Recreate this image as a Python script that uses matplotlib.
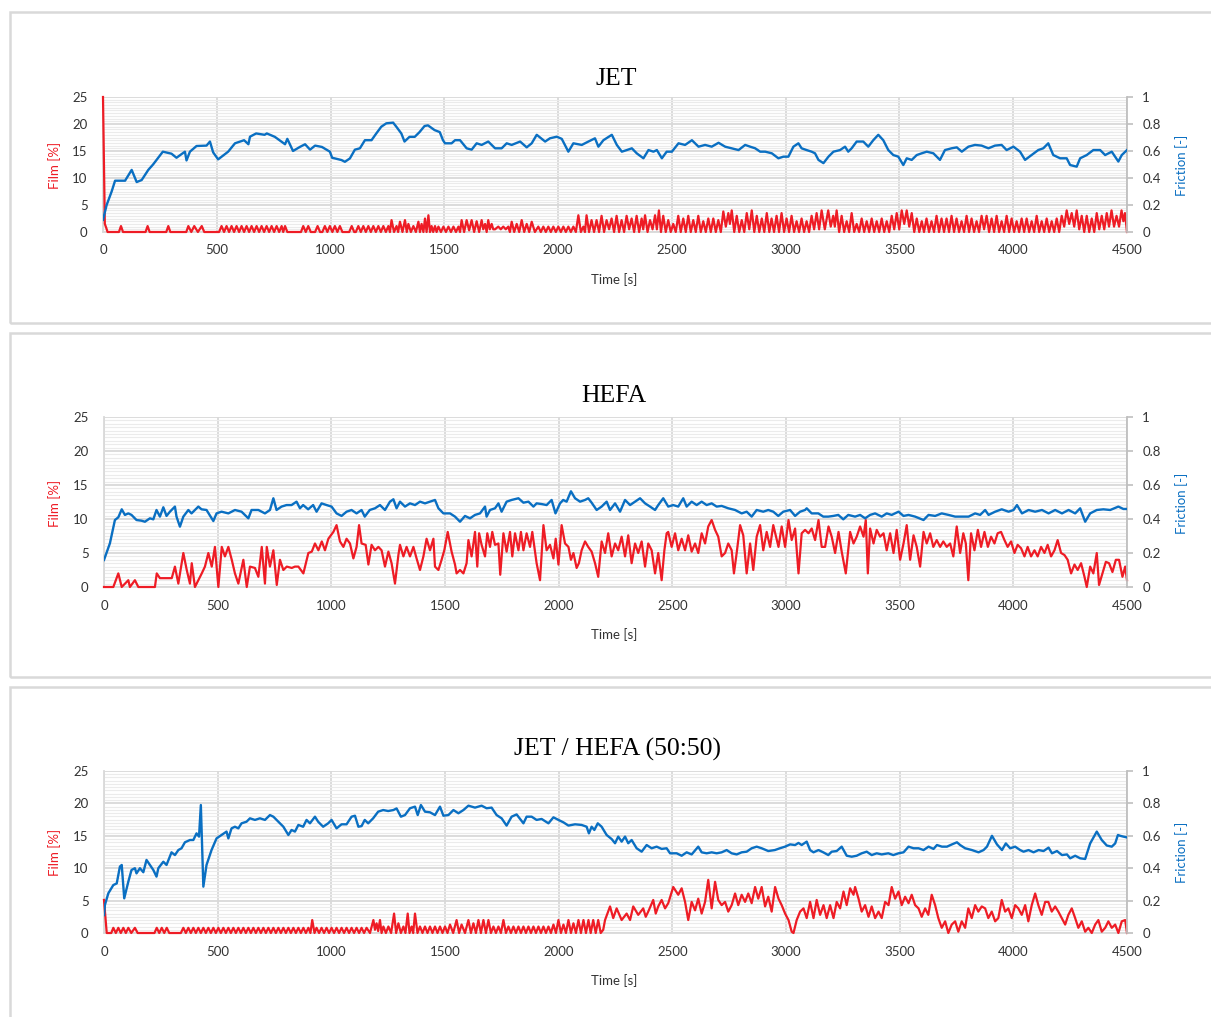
import matplotlib
matplotlib.use('Agg')
import matplotlib.pyplot as plt
from matplotlib.ticker import MultipleLocator
from matplotlib.patches import Rectangle

plt.rcParams['font.family'] = ['Lato', 'DejaVu Sans']

TITLES = ['JET', 'HEFA', 'JET / HEFA (50:50)']
X_TICKS = [0, 500, 1000, 1500, 2000, 2500, 3000, 3500, 4000, 4500]
FILM_TICKS = [0, 5, 10, 15, 20, 25]
FRIC_TICKS = [0, 0.2, 0.4, 0.6, 0.8, 1.0]
FRIC_LABELS = ['0', '0.2', '0.4', '0.6', '0.8', '1']

# ---------------- JET ----------------
JET_FRICTION = [(0,0.09),(16,0.20),(38,0.30),(53,0.38),(97,0.38),(126,0.46),(148,0.37),(170,0.385),(199,0.46),(220,0.50),(263,0.595),(301,0.58),(323,0.55),(360,0.595),(367,0.53),(382,0.595),(411,0.637),(455,0.64),(470,0.67),(484,0.59),(506,0.538),(550,0.595),(580,0.657),(620,0.68),(639,0.65),(646,0.706),(673,0.73),(710,0.72),(720,0.73),(755,0.705),(800,0.65),(810,0.69),(835,0.60),(865,0.63),(888,0.65),(910,0.61),(932,0.64),(962,0.63),(997,0.595),(1007,0.55),(1048,0.533),(1063,0.52),(1085,0.545),(1107,0.61),(1129,0.62),(1151,0.68),(1180,0.68),(1201,0.73),(1223,0.78),(1245,0.805),(1275,0.81),(1289,0.78),(1311,0.73),(1325,0.67),(1347,0.705),(1370,0.705),(1391,0.74),(1413,0.785),(1428,0.79),(1457,0.755),(1480,0.74),(1494,0.68),
(1503,0.657),(1532,0.657),(1547,0.68),(1569,0.68),(1598,0.62),(1620,0.61),(1642,0.657),(1664,0.645),(1693,0.67),(1723,0.62),(1752,0.62),(1774,0.657),(1796,0.645),(1833,0.67),(1862,0.627),(1884,0.657),(1906,0.72),(1943,0.67),(1964,0.694),(1994,0.706),(2016,0.69),(2045,0.595),(2067,0.657),(2104,0.645),(2133,0.67),(2162,0.694),(2177,0.632),(2199,0.68),(2236,0.72),(2258,0.645),(2280,0.595),(2302,0.607),(2324,0.62),(2346,0.582),(2375,0.546),(2397,0.607),(2419,0.595),(2434,0.607),(2456,0.546),(2477,0.595),(2500,0.595),(2529,0.657),(2558,0.645),(2588,0.68),(2617,0.632),(2646,0.645),(2675,0.632),(2705,0.661),(2734,0.632),(2763,0.62),(2793,0.607),(2822,0.645),(2844,0.632),(2866,0.62),(2888,0.595),(2910,0.595),(2939,0.583),(2968,0.546),(2990,0.558),
(3012,0.558),(3034,0.632),(3056,0.657),(3070,0.62),(3092,0.607),(3114,0.595),(3129,0.583),(3144,0.534),(3166,0.51),(3188,0.558),(3210,0.595),(3239,0.607),(3261,0.632),(3275,0.595),(3290,0.62),(3312,0.67),(3341,0.67),(3363,0.632),(3385,0.68),(3407,0.72),(3429,0.68),(3451,0.607),(3473,0.57),(3495,0.558),(3517,0.496),(3532,0.546),(3554,0.534),(3576,0.57),(3598,0.583),(3620,0.595),(3649,0.583),(3678,0.534),(3700,0.607),(3729,0.62),(3752,0.627),(3774,0.595),(3803,0.632),(3832,0.645),(3861,0.64),(3891,0.62),(3920,0.64),(3949,0.645),(3971,0.607),(4001,0.632),(4030,0.595),(4052,0.534),(4081,0.57),(4110,0.607),(4132,0.62),(4154,0.657),(4176,0.57),(4206,0.546),(4235,0.546),(4250,0.496),(4279,0.484),(4294,0.546),(4323,0.57),(4352,0.607),(4382,0.607),(4404,0.57),(4433,0.595),(4462,0.522),(4477,0.57),(4500,0.607)]

JET_FILM = [(0,25),(8,1.5),(14,0.8),(20,0),(70,0),(79,1.1),(88,0),(187,0),(196,1.1),(205,0),(278,0),(287,1.1),(296,0),
(366,0),(375,1.1),(388,0),(401,1.1),(417,0),(434,1.1),(445,0),
(510,0),(521,1.1),(532,0),(543,1.1),(554,0),(565,1.1),(576,0),(587,1.1),(598,0),(609,1.1),(620,0),(631,1.1),(642,0),(653,1.1),(664,0),(675,1.1),(686,0),(697,1.1),(708,0),(719,1.1),(730,0),(741,1.1),(752,0),(763,1.1),(774,0),(785,1.1),(792,0),(800,1.1),(810,0),
(870,0),(880,1.1),(891,0),(902,1.1),(913,0),(932,0),(943,1.1),(954,0),
(964,0),(975,1.1),(986,0),(997,1.1),(1008,0),(1019,1.1),(1030,0),(1041,1.1),(1052,0),(1082,0),(1093,1.1),(1104,0),
(1111,0),(1122,1.1),(1133,0),(1144,1.1),(1155,0),(1166,1.1),(1177,0),(1188,1.1),(1199,0),(1210,1.1),(1221,0),(1232,1.1),(1243,0),(1254,1.1),(1261,0),(1268,2.2),(1279,0),(1290,1.1),(1297,0),(1305,1.9),(1316,0),(1327,2.2),(1335,0),(1342,1.5),(1353,0),(1364,1.1),(1375,0),(1386,1.9),(1393,0),(1400,1.5),(1408,0),(1415,2.5),(1422,0),(1430,3.1),(1437,0),(1444,1.1),(1451,0),(1459,1.1),(1466,0),(1474,1.0),(1485,0),(1496,1.0),(1507,0),(1518,1.0),(1529,0),(1540,1.0),(1551,0),(1562,1.0),(1569,0),
(1576,2.2),(1587,0),(1598,2.2),(1609,0.3),(1620,2.2),(1631,0),(1642,2.0),(1653,0),(1664,2.2),(1671,0.5),(1679,1.5),(1686,0),(1693,2.2),(1700,0.5),(1708,1.5),(1715,0.5),(1723,0.5),(1737,1.0),(1748,0.5),(1759,1.0),(1770,0.5),(1781,1.0),(1788,0),
(1796,1.9),(1807,0),(1818,1.5),(1829,0),(1840,2.2),(1851,0),(1862,1.5),(1873,0),(1884,1.9),(1898,0),
(1913,1.0),(1924,0),(1935,1.0),(1946,0),(1957,1.0),(1968,0),(1979,1.0),(1990,0),(2001,1.0),(2012,0),(2023,1.0),(2034,0),(2045,1.0),(2056,0),(2067,1.0),(2078,0),
(2089,3.1),(2100,0),(2111,1.0),(2118,0),(2125,3.1),(2136,0),
(2147,2.2),(2158,0),(2169,2.2),(2180,0),(2191,3.0),(2202,0),(2213,2.2),(2224,0.5),(2235,2.5),(2246,0),(2257,3.0),(2268,0),(2279,2.2),(2290,0),(2301,3.0),(2312,0.5),(2323,2.5),(2334,0),(2345,3.0),(2356,0),(2367,2.5),(2374,0.5),(2382,3.1),(2393,0),(2404,2.2),(2415,0.5),(2426,3.1),(2434,0.5),(2443,4.0),(2452,0),(2462,3.0),(2473,0),(2484,2.2),(2495,0),(2506,1.5),(2517,0),(2528,3.0),(2539,0),(2550,2.5),(2561,0),(2572,3.0),(2583,0),(2594,2.2),(2605,0),(2616,3.0),(2627,0),(2638,2.0),(2649,0),(2660,2.5),(2671,0),(2682,2.5),(2693,0),(2704,2.2),(2715,0),(2726,3.8),(2737,1.0),(2748,3.5),(2755,1.5),(2763,4.0),(2774,0),(2785,3.0),(2796,0),(2807,2.2),(2818,0),(2829,3.5),(2840,0.5),(2851,4.0),(2862,0),(2873,3.0),(2884,0),(2895,2.5),(2906,0),(2917,3.5),(2928,0),(2938,2.5),(2949,0),(2960,3.0),(2971,0),(2982,3.5),(2993,0),
(3004,2.5),(3015,0),(3026,3.0),(3037,0),(3048,2.0),(3059,0),(3070,2.5),(3081,0),(3092,2.0),(3103,0),(3114,3.0),(3125,0.5),(3136,3.5),(3147,0.5),(3158,4.0),(3172,0.5),(3187,4.0),(3198,1.0),(3209,3.0),(3216,1.0),(3224,4.0),(3235,0),(3246,3.0),(3257,0),(3268,2.0),(3279,0),(3290,3.5),(3301,0),(3312,1.5),(3323,0),(3334,2.5),(3345,0),(3356,2.0),(3367,0),(3378,2.5),(3389,0),(3400,2.0),(3411,0),(3422,2.5),(3433,0),(3444,2.0),(3455,0),(3466,3.0),(3477,0.5),(3488,3.5),(3499,0.5),(3510,4.0),(3521,1.5),(3532,4.0),(3543,1.0),(3554,3.5),(3565,0),(3576,2.5),(3587,0),(3598,2.0),(3608,0),(3619,2.5),(3630,0),(3641,2.0),(3652,0),(3663,3.0),(3674,0),(3685,2.5),(3696,0),(3707,2.5),(3718,0),(3729,3.0),(3740,0),(3751,2.5),(3762,0),(3773,2.0),(3784,0),(3795,3.0),(3806,0),(3817,2.5),(3828,0),(3839,2.0),(3850,0),(3861,3.0),(3872,0.5),(3883,3.0),(3894,0),(3905,2.5),(3916,0),(3927,3.0),(3938,0),(3949,2.0),(3960,0),(3971,3.0),(3982,0),(3993,2.5),(4004,0),(4015,2.0),(4026,0),(4037,2.5),(4048,0),(4059,2.5),(4070,0),(4081,2.0),(4092,0),(4103,3.0),(4114,0),(4125,2.0),(4136,0),(4147,2.5),(4158,0),(4169,2.0),(4180,0),(4191,2.5),(4202,0),(4213,3.0),(4224,1.0),(4235,4.0),(4246,1.5),(4257,3.5),(4268,1.0),(4279,4.0),(4290,0.5),(4301,3.0),(4312,0),(4323,3.0),(4334,0),(4345,2.5),(4356,0),(4367,3.5),(4378,0.5),(4389,3.0),(4400,0.5),(4411,3.5),(4421,1.0),(4432,4.0),(4443,1.0),(4454,3.0),(4465,1.0),(4476,4.0),(4484,2.0),(4491,3.5),(4500,0)]

# ---------------- HEFA ----------------
HEFA_FRICTION = [(0,0.159),(26,0.257),(48,0.394),(63,0.41),(78,0.457),(92,0.424),(107,0.433),(121,0.424),(143,0.394),(165,0.39),(180,0.384),(202,0.404),(217,0.398),(231,0.453),(246,0.414),(261,0.469),(275,0.418),(290,0.443),(312,0.473),(319,0.414),(334,0.355),(349,0.414),(371,0.453),(385,0.433),(400,0.453),(415,0.473),(429,0.457),(451,0.453),(481,0.388),(495,0.433),(517,0.443),(547,0.433),(576,0.453),(605,0.443),(635,0.404),(649,0.453),(679,0.453),(708,0.433),(730,0.453),(745,0.522),(759,0.453),(781,0.473),(803,0.482),(825,0.482),(847,0.502),(862,0.463),(876,0.482),(898,0.457),(920,0.482),(935,0.443),(957,0.492),(979,0.482),(1001,0.473),(1023,0.433),(1045,0.418),(1067,0.443),(1089,0.453),(1111,0.433),(1133,0.453),(1147,0.414),(1169,0.453),(1192,0.463),(1214,0.482),(1236,0.453),(1258,0.502),(1273,0.516),(1287,0.463),(1302,0.502),(1324,0.473),(1346,0.492),(1368,0.482),(1390,0.502),(1412,0.492),(1434,0.502),(1456,0.512),(1471,0.463),(1493,0.433),
(1522,0.433),(1544,0.414),(1566,0.384),(1588,0.418),(1610,0.404),(1632,0.424),(1654,0.433),(1676,0.473),(1683,0.414),(1698,0.453),(1720,0.463),(1735,0.492),(1749,0.443),(1771,0.502),(1793,0.512),(1823,0.522),(1845,0.496),(1867,0.502),(1889,0.473),(1903,0.492),(1925,0.488),(1947,0.482),(1969,0.512),(1986,0.433),(2006,0.492),(2020,0.512),(2035,0.502),(2054,0.563),(2072,0.522),(2094,0.502),(2116,0.512),(2130,0.522),(2145,0.496),(2167,0.453),(2189,0.473),(2211,0.502),(2226,0.453),(2248,0.492),(2270,0.443),(2292,0.512),(2314,0.482),(2336,0.502),(2358,0.522),(2380,0.492),(2402,0.473),(2424,0.453),(2438,0.482),(2460,0.522),(2482,0.473),(2504,0.482),(2526,0.473),(2548,0.522),(2563,0.473),(2585,0.502),(2607,0.482),(2629,0.502),(2651,0.482),(2673,0.492),(2695,0.473),(2717,0.477),(2746,0.463),(2776,0.453),(2805,0.433),(2827,0.443),(2849,0.414),(2871,0.453),(2900,0.443),(2922,0.453),(2944,0.443),(2966,0.418),(2988,0.443),
(3018,0.453),(3040,0.418),(3062,0.443),(3084,0.453),(3091,0.463),(3113,0.433),(3142,0.433),(3164,0.414),(3186,0.414),(3208,0.418),(3230,0.424),(3252,0.398),(3274,0.424),(3304,0.414),(3326,0.424),(3348,0.404),(3370,0.424),(3392,0.433),(3421,0.414),(3443,0.433),(3465,0.424),(3495,0.443),(3517,0.418),(3539,0.424),(3568,0.414),(3605,0.394),(3627,0.424),(3656,0.418),(3685,0.433),(3715,0.424),(3744,0.414),(3773,0.414),(3803,0.414),(3832,0.433),(3854,0.424),(3876,0.453),(3891,0.424),(3920,0.443),(3949,0.457),(3979,0.443),(4001,0.453),(4016,0.482),(4038,0.433),(4067,0.453),(4096,0.443),(4126,0.453),(4155,0.433),(4184,0.453),(4214,0.433),(4243,0.453),(4272,0.433),(4294,0.463),(4316,0.384),(4338,0.433),(4367,0.453),(4396,0.457),(4426,0.453),(4462,0.473),(4484,0.459),(4500,0.459)]

HEFA_FILM = [(0,0),(41,0),(63,2.0),(78,0),(107,1.0),(114,0),(136,1.0),(151,0),(224,0),(232,2.0),(246,1.3),(268,1.3),(298,1.3),(312,3.0),(327,0.5),(349,5.0),(364,2.5),(378,0.5),(386,3.5),(400,0),(415,1.0),(430,2.0),(444,3.0),(459,5.0),(474,3.0),(488,5.9),(503,0),(518,5.9),(532,4.5),(547,5.9),(562,4.0),(576,2.0),(591,0.5),(613,4.0),(628,0),(642,3.0),(664,2.8),(679,1.5),(694,5.9),(708,0.5),(716,5.9),(730,3.0),(745,5.4),(760,0.3),(774,4.0),(789,2.5),(804,3.0),(826,2.8),(840,3.0),(855,3.0),(877,2.0),(899,5.0),(914,5.2),(928,6.4),(943,5.4),(958,6.7),(972,5.4),(987,7.1),(1009,8.1),(1023,9.1),(1038,6.7),(1053,5.9),(1067,7.1),(1082,6.4),(1097,4.2),(1111,5.9),(1122,9.1),(1133,6.4),(1151,6.2),(1163,3.3),(1177,6.2),(1192,5.4),(1207,5.9),(1221,5.4),(1236,3.0),(1251,5.2),(1265,3.5),(1280,0.5),(1295,4.7),(1302,6.2),(1317,4.5),(1331,5.9),(1346,4.5),(1361,5.9),(1375,4.2),(1390,2.5),(1405,4.5),(1419,7.1),(1434,5.4),(1449,7.1),(1456,3.0),(1471,2.5),(1485,4.0),(1497,5.4),
(1512,8.1),(1529,5.2),(1544,3.3),(1551,2.0),(1566,2.5),(1581,2.0),(1595,3.5),(1603,6.9),(1617,4.5),(1632,8.1),(1642,3.0),(1650,7.9),(1661,6.2),(1676,4.5),(1686,7.9),(1698,5.9),(1708,8.1),(1720,6.2),(1735,6.4),(1743,1.8),(1757,7.9),(1771,5.2),(1786,8.1),(1796,4.5),(1808,7.9),(1823,5.4),(1834,8.1),(1845,5.4),(1859,7.9),(1874,5.9),(1884,8.1),(1896,5.2),(1903,3.5),(1918,1.0),(1933,9.1),(1947,5.4),(1962,6.2),(1977,4.2),(1987,7.1),(1999,3.3),(2013,9.1),(2028,6.4),(2043,5.9),(2054,4.0),(2065,5.0),(2079,2.8),(2089,3.5),(2101,5.4),(2116,6.7),(2130,5.9),(2145,5.2),(2160,3.5),(2174,1.5),(2189,6.7),(2204,5.0),(2218,7.9),(2233,4.5),(2248,6.4),(2262,5.4),(2277,7.4),(2292,4.5),(2306,7.6),(2321,3.5),(2336,6.4),(2350,5.0),(2365,6.7),(2380,3.0),(2394,6.4),(2409,5.4),(2424,2.0),(2438,5.0),(2453,1.0),(2465,5.4),(2475,7.9),(2482,8.1),(2497,5.9),(2512,7.9),(2526,5.4),(2541,7.1),(2556,5.4),(2570,7.6),(2585,5.2),(2600,6.4),(2614,5.0),(2629,7.9),(2644,6.4),(2658,8.9),(2673,9.85),(2688,8.4),(2702,7.4),(2717,4.5),(2732,5.0),(2746,6.4),(2761,5.4),(2771,2.0),(2783,5.0),(2798,9.1),(2812,7.6),(2827,2.0),(2842,6.4),(2856,2.5),(2871,7.4),(2886,9.1),(2900,5.4),(2915,8.1),(2930,5.9),(2944,9.1),
(2967,5.9),(2981,8.9),(2996,5.9),(3011,9.85),(3025,6.9),(3040,8.6),(3055,2.0),(3069,7.9),(3084,8.4),(3099,7.9),(3113,8.6),(3128,6.9),(3143,9.85),(3157,5.9),(3172,5.9),(3187,8.9),(3201,7.4),(3216,5.0),(3231,8.1),(3245,5.2),(3263,2.0),(3282,8.1),(3297,6.4),(3311,7.4),(3326,8.9),(3341,7.4),(3351,9.85),(3360,2.0),(3370,8.6),(3385,6.4),(3399,8.4),(3414,7.4),(3429,7.9),(3443,5.4),(3458,7.9),(3473,5.0),(3487,8.4),(3502,4.0),(3517,6.4),(3531,9.1),(3546,4.0),(3561,7.6),(3575,5.9),(3590,3.0),(3605,8.1),(3619,6.4),(3634,7.9),(3648,5.9),(3663,6.9),(3678,5.9),(3692,6.7),(3707,5.9),(3722,6.4),(3736,4.5),(3751,8.9),(3766,5.0),(3780,7.9),(3791,6.4),(3802,1.0),(3814,7.9),(3829,5.4),(3844,8.4),(3858,5.9),(3873,8.1),(3888,5.9),(3902,7.4),(3917,6.4),(3931,7.9),(3946,8.1),(3961,6.9),(3975,5.9),(3990,6.7),(4005,5.0),(4019,6.2),(4034,5.7),(4049,4.5),(4063,5.9),(4078,4.5),(4093,5.4),(4107,4.5),(4122,5.9),(4137,5.0),(4151,6.2),(4166,4.5),(4181,5.4),(4195,6.9),(4210,5.0),(4225,4.7),(4239,4.0),(4254,2.0),(4269,3.3),(4283,2.5),(4298,3.5),(4313,1.5),(4323,0.0),(4338,3.0),(4352,2.0),(4367,5.0),(4377,0.3),(4392,2.0),(4407,3.7),(4421,3.5),(4436,2.2),(4451,4.0),(4465,4.0),(4480,1.5),(4492,3.0),(4500,1.0)]

# ---------------- JET / HEFA (50:50) ----------------
MIX_FRICTION = [(0,0.111),(4,0.173),(19,0.245),(41,0.296),(56,0.306),(70,0.41),(78,0.42),(89,0.214),(107,0.317),(121,0.389),(136,0.40),(143,0.368),(158,0.40),(173,0.375),(187,0.451),(202,0.42),(217,0.389),(231,0.348),(239,0.40),(261,0.44),(275,0.42),(297,0.498),(312,0.481),(327,0.512),(341,0.523),(356,0.56),(378,0.574),(393,0.574),(407,0.615),(418,0.595),(426,0.79),(437,0.286),(451,0.42),(473,0.512),(495,0.584),(517,0.605),(539,0.626),(547,0.584),(561,0.646),(576,0.656),(591,0.646),(605,0.677),(627,0.687),(642,0.708),(664,0.698),(686,0.708),(708,0.698),(730,0.728),(745,0.718),(767,0.687),(789,0.656),(811,0.605),(825,0.636),(840,0.626),(855,0.667),(876,0.656),(891,0.698),(906,0.677),(928,0.718),(942,0.687),(964,0.656),(986,0.677),(1001,0.698),(1023,0.646),(1045,0.671),(1067,0.671),(1089,0.718),(1104,0.724),(1119,0.656),(1133,0.66),(1147,0.698),(1162,0.677),(1184,0.708),(1206,0.749),(1228,0.759),(1250,0.753),(1273,0.759),(1287,0.769),(1306,0.718),(1324,0.728),(1346,0.77),(1368,0.78),(1380,0.728),(1394,0.79),(1412,0.749),(1434,0.745),(1456,0.728),(1478,0.78),(1493,0.724),
(1515,0.728),(1537,0.759),(1559,0.739),(1581,0.759),(1603,0.786),(1632,0.774),(1661,0.786),(1683,0.77),(1705,0.774),(1727,0.728),(1749,0.708),(1771,0.663),(1793,0.718),(1815,0.732),(1845,0.677),(1859,0.718),(1881,0.718),(1903,0.698),(1925,0.704),(1955,0.677),(1977,0.714),(1999,0.698),(2021,0.683),(2043,0.663),(2072,0.671),(2101,0.667),(2123,0.656),(2133,0.615),(2145,0.656),(2157,0.636),(2172,0.677),(2189,0.656),(2211,0.605),(2233,0.58),(2248,0.554),(2262,0.595),(2277,0.564),(2292,0.595),(2306,0.554),(2321,0.574),(2343,0.523),(2365,0.502),(2387,0.543),(2409,0.523),(2431,0.533),(2453,0.519),(2475,0.523),(2490,0.492),(2519,0.492),(2541,0.477),(2563,0.498),(2585,0.485),(2614,0.533),(2629,0.498),(2651,0.492),(2673,0.498),(2695,0.492),(2717,0.498),(2739,0.512),(2761,0.492),(2783,0.485),(2805,0.498),(2827,0.502),(2849,0.523),(2871,0.533),(2893,0.523),(2922,0.506),(2951,0.512),(2973,0.523),
(2996,0.533),(3018,0.547),(3040,0.543),(3055,0.556),(3069,0.543),(3091,0.564),(3106,0.512),(3121,0.498),(3143,0.512),(3164,0.498),(3186,0.481),(3201,0.502),(3223,0.506),(3245,0.533),(3267,0.477),(3289,0.471),(3311,0.477),(3333,0.492),(3355,0.502),(3377,0.481),(3399,0.492),(3421,0.485),(3450,0.492),(3472,0.481),(3495,0.492),(3517,0.498),(3539,0.533),(3561,0.523),(3583,0.523),(3605,0.512),(3627,0.533),(3649,0.519),(3664,0.543),(3686,0.533),(3708,0.533),(3730,0.547),(3752,0.56),(3766,0.543),(3788,0.523),(3818,0.512),(3847,0.498),(3869,0.512),(3884,0.533),(3906,0.60),(3928,0.547),(3950,0.512),(3967,0.553),(3986,0.523),(4008,0.533),(4030,0.512),(4045,0.502),(4067,0.512),(4089,0.498),(4111,0.512),(4133,0.506),(4155,0.527),(4170,0.492),(4192,0.506),(4214,0.481),(4236,0.485),(4250,0.461),(4272,0.477),(4294,0.461),(4316,0.457),(4338,0.553),(4367,0.626),(4389,0.574),(4411,0.54),(4433,0.533),(4448,0.553),(4460,0.605),(4470,0.60),(4484,0.595),(4500,0.59)]

MIX_FILM = [(0,5.1),(12,0),(32,0),(41,0.8),(52,0),(63,0.8),(74,0),(85,0.8),(96,0),(107,0.8),(120,0),(136,0.8),(148,0),
(222,0),(232,0.8),(243,0),(254,0.8),(265,0),(276,0.8),(287,0),
(338,0),(349,0.8),(360,0),(371,0.8),(382,0),(393,0.8),(404,0),(415,0.8),(426,0),(437,0.8),(448,0),(459,0.8),(470,0),(481,0.8),(492,0),(503,0.8),(514,0),(525,0.8),(536,0),(547,0.8),(558,0),(569,0.8),(580,0),(591,0.8),(602,0),(613,0.8),(624,0),(635,0.8),(646,0),(657,0.8),(668,0),(679,0.8),(690,0),(701,0.8),(712,0),(723,0.8),(734,0),(745,0.8),(756,0),(767,0.8),(778,0),(789,0.8),(800,0),(811,0.8),(822,0),(833,0.8),(844,0),(855,0.8),(866,0),(877,0.8),(888,0),(899,0.8),(908,0),(916,2.0),(926,0),(935,0.8),(946,0),(957,0.8),(968,0),(979,0.8),(990,0),(1001,0.8),(1012,0),(1023,0.8),(1034,0),(1045,0.8),(1056,0),(1067,0.8),(1078,0),(1089,0.8),(1100,0),(1111,0.8),(1122,0),(1133,0.8),(1144,0),(1155,0.8),(1170,0),(1185,2.0),(1192,0.5),(1199,1.5),(1206,0.3),(1214,2.0),(1221,0),(1229,1.0),(1240,0),(1251,1.0),(1263,0),(1276,3.0),(1285,0),(1295,1.5),(1306,0),(1317,1.0),(1326,0),(1336,3.0),(1344,0),(1353,1.0),(1360,0),(1368,3.0),(1379,0),(1390,1.0),(1401,0),(1412,1.0),(1423,0),(1434,1.0),(1445,0),(1456,1.0),(1467,0),(1478,1.0),(1489,0),(1500,1.0),(1511,0),(1522,1.3),(1536,0),(1551,2.0),(1562,0),(1573,1.3),(1588,0),(1603,2.0),(1614,0),(1625,1.5),(1636,0),(1647,2.0),(1658,0),(1669,2.0),(1680,0),(1691,2.0),(1702,0),(1713,1.0),(1724,0),(1735,1.0),(1746,0),(1757,2.0),(1768,0),(1779,1.0),(1790,0),(1801,1.0),(1812,0),(1823,1.0),(1834,0),(1845,1.0),(1856,0),(1867,1.0),(1878,0),(1889,1.0),(1900,0),(1911,1.0),(1922,0),(1933,1.0),(1944,0),(1955,1.0),(1966,0),(1977,1.3),(1988,0),(1999,2.0),(2010,0),(2021,1.3),(2032,0),(2043,2.0),(2054,0),(2065,1.5),(2076,0),(2087,2.0),(2098,0),(2109,2.0),(2120,0),(2131,2.0),(2141,0),(2152,2.0),(2163,0),(2174,2.0),(2185,0),(2196,0.5),
(2204,2.0),(2226,4.1),(2240,2.3),(2255,3.8),(2277,2.0),(2299,3.0),(2314,2.0),(2328,4.1),(2350,2.8),(2372,3.8),(2383,2.5),(2394,3.3),(2416,5.1),(2427,3.0),(2438,4.1),(2453,5.1),(2468,3.8),(2482,4.6),(2504,7.1),(2526,5.9),(2541,6.9),(2556,4.8),(2570,2.0),(2585,4.8),(2600,3.5),(2614,5.3),(2629,3.0),(2644,4.8),(2658,8.2),(2673,3.8),(2688,7.9),(2702,5.1),(2717,4.3),(2732,4.8),(2746,3.3),(2761,4.3),(2776,6.1),(2790,4.3),(2805,5.9),(2820,4.8),(2834,6.1),(2849,4.6),(2864,7.1),(2878,5.3),(2893,7.1),(2908,4.1),(2922,5.6),(2937,3.3),(2952,7.1),(2967,5.3),(2981,4.3),(2996,3.0),(3011,2.0),(3025,0.2),(3033,0),
(3047,2.0),(3062,3.3),(3077,3.8),(3091,2.3),(3106,4.8),(3121,2.3),(3135,5.1),(3150,2.8),(3165,4.3),(3179,2.3),(3194,4.3),(3209,2.3),(3223,4.8),(3238,3.8),(3253,6.4),(3267,4.3),(3282,6.9),(3297,5.9),(3304,7.1),(3319,5.3),(3333,3.3),(3348,4.3),(3363,2.5),(3377,4.1),(3392,2.3),(3407,3.3),(3421,2.3),(3436,4.8),(3451,4.3),(3465,7.1),(3480,5.3),(3495,6.4),(3509,4.3),(3524,5.6),(3539,4.6),(3553,5.9),(3568,4.3),(3583,3.8),(3597,2.5),(3612,3.8),(3626,2.8),(3641,5.9),(3656,4.3),(3670,2.3),(3685,0.8),(3700,1.8),(3714,0),(3729,1.3),(3744,1.8),(3758,0.2),(3773,1.8),(3788,0.8),(3802,3.8),(3817,2.3),(3832,4.3),(3846,3.3),(3861,4.1),(3876,3.8),(3890,2.3),(3905,3.3),(3920,1.8),(3934,2.3),(3949,5.1),(3964,3.3),(3978,3.8),(3993,2.3),(4008,4.3),(4022,3.8),(4037,2.8),(4052,4.3),(4066,1.8),(4081,4.3),(4096,6.1),(4110,4.3),(4125,2.8),(4140,4.8),(4154,4.8),(4169,3.3),(4184,4.1),(4198,3.3),(4213,2.3),(4228,1.3),(4242,2.8),(4257,3.8),(4272,2.3),(4286,0.8),(4301,1.8),(4316,0.2),(4330,0.8),(4345,0),(4360,1.3),(4374,2.0),(4389,0.2),(4404,0.8),(4418,1.8),(4433,0.8),(4448,1.3),(4462,0),(4477,1.8),(4492,2.0),(4500,0)]

FILM_SERIES = [JET_FILM, HEFA_FILM, MIX_FILM]
FRICTION_SERIES = [JET_FRICTION, HEFA_FRICTION, MIX_FRICTION]

RED = '#ee1c25'
BLUE = '#0a6fc2'
GRID = '#d9d9d9'
MINOR = '#ebebeb'
TXT = '#333333'

W, H = 1211, 1017
fig = plt.figure(figsize=(W / 100, H / 100), dpi=100)


def fx(px):
    return px / W


def fy(py):
    return 1 - py / H


LAYOUT = [
    dict(box=(12, 323), ax=(103, 1127, 97, 232), title=(616, 79), lab=165, time=280),
    dict(box=(333, 677), ax=(104, 1127, 417, 587), title=(614, 396), lab=503, time=635),
    dict(box=(687, 1040), ax=(104, 1127, 771, 933), title=(617, 749), lab=852, time=981),
]

for i, lay in enumerate(LAYOUT):
    b1, b2 = lay['box']
    rect = Rectangle((fx(10), fy(b2)), 1.0, (b2 - b1) / H, transform=fig.transFigure,
                     fill=False, edgecolor='#d9d9d9', lw=1.8, clip_on=False)
    fig.add_artist(rect)

    l, r, t, b = lay['ax']
    ax = fig.add_axes([fx(l), fy(b), (r - l) / W, (b - t) / H])
    ax.set_xlim(0, 4500)
    ax.set_ylim(0, 25)
    ax.set_xticks(X_TICKS)
    ax.set_yticks(FILM_TICKS)
    ax.yaxis.set_minor_locator(MultipleLocator(0.5))
    ax.grid(which='minor', axis='y', color=MINOR, lw=0.8)
    ax.grid(which='major', color=GRID, lw=1.3)
    ax.set_axisbelow(True)
    ax.tick_params(which='both', length=0)
    ax.tick_params(axis='y', pad=11, labelsize=9.5, labelcolor=TXT)
    ax.tick_params(axis='x', pad=9, labelsize=9.5, labelcolor=TXT)
    for s in ['top', 'right']:
        ax.spines[s].set_visible(False)
    ax.spines['left'].set_color(GRID)
    ax.spines['bottom'].set_color(GRID)
    ax.spines['left'].set_linewidth(1.3)
    ax.spines['bottom'].set_linewidth(1.3)

    ft = [p[0] for p in FILM_SERIES[i]]
    fv = [p[1] for p in FILM_SERIES[i]]
    ax.plot(ft, fv, color=RED, lw=1.6, solid_joinstyle='round', clip_on=False, zorder=3)

    ax2 = ax.twinx()
    ax2.set_ylim(0, 1)
    ax2.set_yticks(FRIC_TICKS)
    ax2.set_yticklabels(FRIC_LABELS)
    ax2.tick_params(axis='y', length=4, width=1.2, color='#bfbfbf', pad=7, labelsize=9.5, labelcolor=TXT)
    for s in ['top', 'left', 'bottom']:
        ax2.spines[s].set_visible(False)
    ax2.spines['right'].set_color('#bfbfbf')
    ax2.spines['right'].set_linewidth(1.3)
    rt = [p[0] for p in FRICTION_SERIES[i]]
    rv = [p[1] for p in FRICTION_SERIES[i]]
    ax2.plot(rt, rv, color=BLUE, lw=1.7, solid_joinstyle='round', zorder=3)

    tx, ty = lay['title']
    fig.text(fx(tx), fy(ty), TITLES[i], ha='center', va='center', fontsize=18.5,
             family=['Liberation Serif', 'DejaVu Serif'], color='black')
    fig.text(fx(55), fy(lay['lab']), 'Film [%]', rotation=90, ha='center', va='center',
             fontsize=9.5, color=RED)
    fig.text(fx(1182), fy(lay['lab']), 'Friction [-]', rotation=90, ha='center', va='center',
             fontsize=9.5, color=BLUE)
    fig.text(fx(614), fy(lay['time']), 'Time [s]', ha='center', va='center',
             fontsize=9.5, color=TXT)

fig.savefig('out.png', dpi=100, facecolor='white')
